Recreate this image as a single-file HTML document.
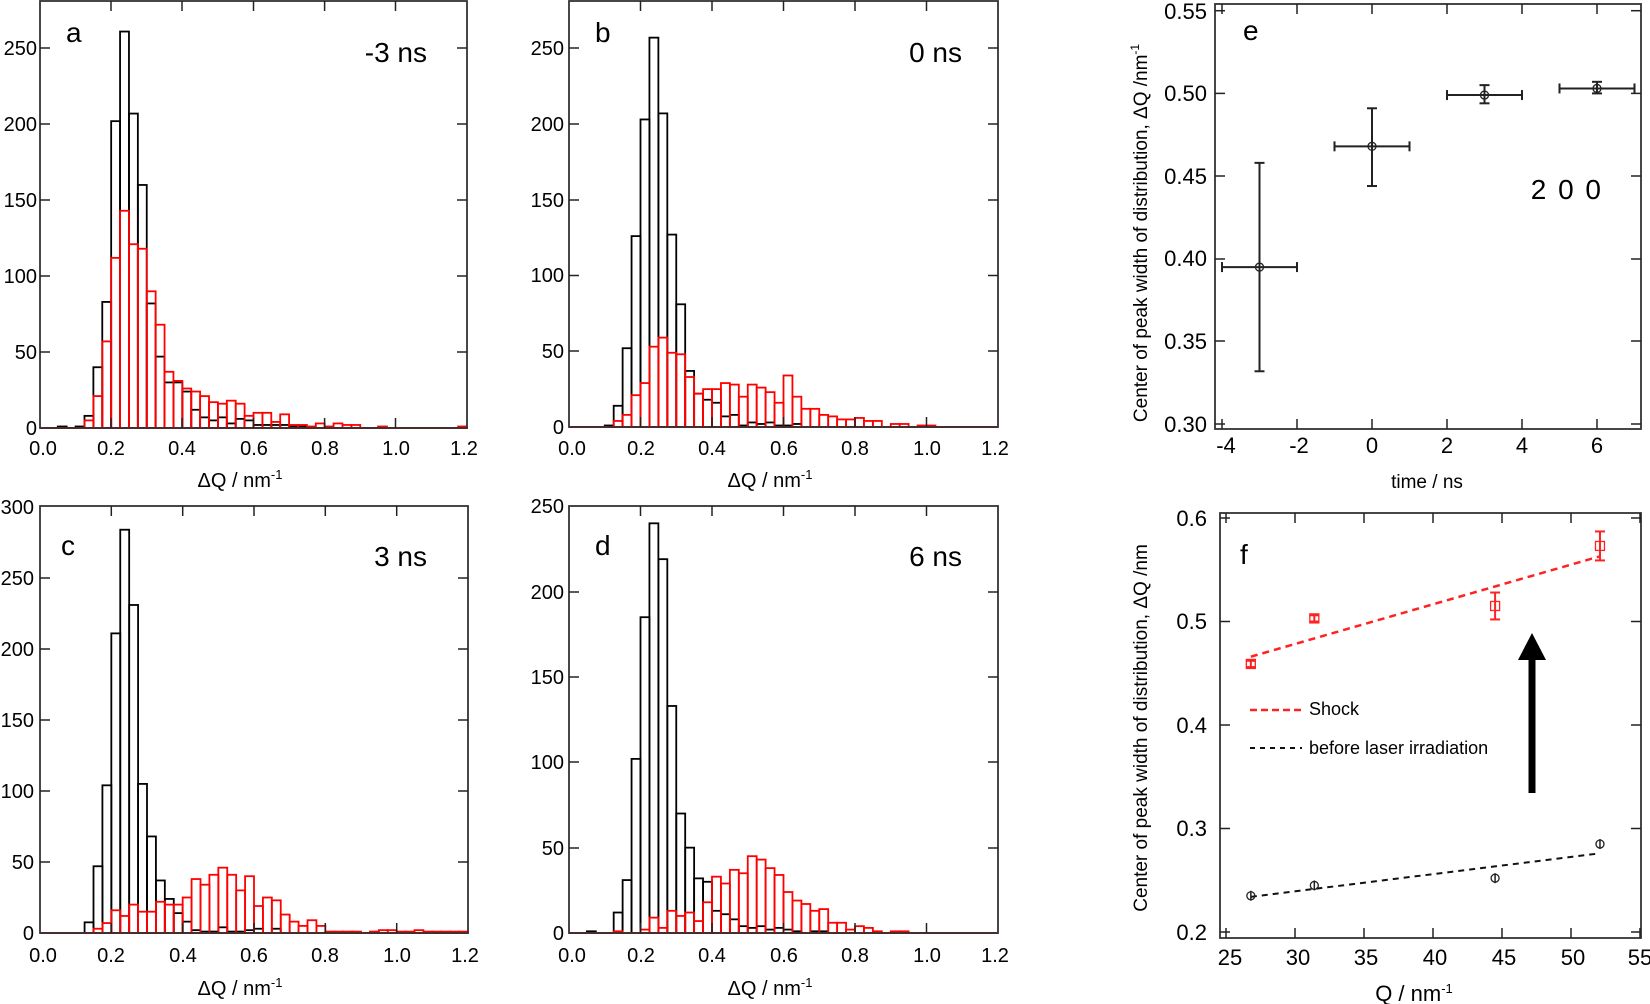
<!DOCTYPE html>
<html><head><meta charset="utf-8"><style>
html,body{margin:0;padding:0;background:#fff;}
svg{display:block;}
text{font-family:"Liberation Sans",Arial,sans-serif;fill:#000;}
.t{font-size:20px;}
.lab{font-size:20px;}
.big{font-size:28px;}
</style></head><body>
<svg id="s" xmlns="http://www.w3.org/2000/svg" width="1650" height="1004" viewBox="0 0 1650 1004">
<g id="g"></g>
<g class="t" text-anchor="end">
<text x="37" y="435">0</text><text x="37" y="359">50</text><text x="37" y="283">100</text><text x="37" y="207">150</text><text x="37" y="131">200</text><text x="37" y="55">250</text>
<text x="564" y="434">0</text><text x="564" y="358">50</text><text x="564" y="282">100</text><text x="564" y="207">150</text><text x="564" y="131">200</text><text x="564" y="55">250</text>
<text x="34" y="940">0</text><text x="34" y="869">50</text><text x="34" y="798">100</text><text x="34" y="727">150</text><text x="34" y="656">200</text><text x="34" y="585">250</text><text x="34" y="514">300</text>
<text x="564" y="940">0</text><text x="564" y="855">50</text><text x="564" y="769">100</text><text x="564" y="684">150</text><text x="564" y="599">200</text><text x="564" y="513">250</text>
</g>
<g class="t" text-anchor="middle">
<text x="43" y="455">0.0</text><text x="111" y="455">0.2</text><text x="182" y="455">0.4</text><text x="254" y="455">0.6</text><text x="325" y="455">0.8</text><text x="396" y="455">1.0</text><text x="464" y="455">1.2</text>
<text x="572" y="455">0.0</text><text x="641" y="455">0.2</text><text x="712" y="455">0.4</text><text x="784" y="455">0.6</text><text x="855" y="455">0.8</text><text x="927" y="455">1.0</text><text x="995" y="455">1.2</text>
<text x="43" y="962">0.0</text><text x="111" y="962">0.2</text><text x="183" y="962">0.4</text><text x="254" y="962">0.6</text><text x="325" y="962">0.8</text><text x="397" y="962">1.0</text><text x="465" y="962">1.2</text>
<text x="572" y="962">0.0</text><text x="641" y="962">0.2</text><text x="712" y="962">0.4</text><text x="784" y="962">0.6</text><text x="855" y="962">0.8</text><text x="927" y="962">1.0</text><text x="995" y="962">1.2</text>
</g>
<g class="lab" text-anchor="middle">
<text x="240" y="487">ΔQ / nm<tspan font-size="13" dy="-8">-1</tspan></text>
<text x="770" y="487">ΔQ / nm<tspan font-size="13" dy="-8">-1</tspan></text>
<text x="240" y="995">ΔQ / nm<tspan font-size="13" dy="-8">-1</tspan></text>
<text x="770" y="995">ΔQ / nm<tspan font-size="13" dy="-8">-1</tspan></text>
</g>
<g class="big">
<text x="66" y="42">a</text><text x="427" y="62" text-anchor="end">-3 ns</text>
<text x="595" y="42">b</text><text x="962" y="62" text-anchor="end">0 ns</text>
<text x="61" y="555">c</text><text x="427" y="566" text-anchor="end">3 ns</text>
<text x="595" y="555">d</text><text x="962" y="566" text-anchor="end">6 ns</text>
<text x="1243" y="40">e</text>
<text x="1603" y="199" text-anchor="end" letter-spacing="2">2 0 0</text>
<text x="1240" y="564">f</text>
</g>
<g class="t" text-anchor="end" style="font-size:22px">
<text x="1207" y="432">0.30</text><text x="1207" y="349">0.35</text><text x="1207" y="266">0.40</text><text x="1207" y="184">0.45</text><text x="1207" y="101">0.50</text><text x="1207" y="19">0.55</text>
<text x="1207" y="940">0.2</text><text x="1207" y="836">0.3</text><text x="1207" y="733">0.4</text><text x="1207" y="629">0.5</text><text x="1207" y="526">0.6</text>
</g>
<g class="t" text-anchor="middle" style="font-size:22px">
<text x="1226" y="453">-4</text><text x="1299" y="453">-2</text><text x="1372" y="453">0</text><text x="1447" y="453">2</text><text x="1522" y="453">4</text><text x="1597" y="453">6</text>
<text x="1230" y="965">25</text><text x="1298" y="965">30</text><text x="1366" y="965">35</text><text x="1435" y="965">40</text><text x="1504" y="965">45</text><text x="1573" y="965">50</text><text x="1640" y="965">55</text>
</g>
<g text-anchor="middle" style="font-size:19px">
<text x="1427" y="488">time / ns</text>
<text x="1414" y="1001" style="font-size:22px">Q / nm<tspan font-size="13" dy="-8">-1</tspan></text>
<text transform="translate(1147,233) rotate(-90)">Center of peak width of distribution, ΔQ /nm<tspan font-size="12" dy="-8">-1</tspan></text>
<text transform="translate(1147,728) rotate(-90)">Center of peak width of distribution, ΔQ /nm</text>
</g>
<g style="font-size:18px">
<text x="1309" y="715">Shock</text>
<text x="1309" y="754">before laser irradiation</text>
</g>
</svg>
<script>
var g=document.getElementById('g'),NS='http://www.w3.org/2000/svg';
function el(t,a){var e=document.createElementNS(NS,t);for(var k in a)e.setAttribute(k,a[k]);g.appendChild(e);return e;}
function line(x1,y1,x2,y2,c,w,d){var a={x1:x1,y1:y1,x2:x2,y2:y2,stroke:c||'#222','stroke-width':w||1.5};if(d)a['stroke-dasharray']=d;el('line',a);}
function arr(o){var r=new Array(48).fill(0);for(var k in o)r[k]=o[k];return r;}
function hist(L,R,B,ppc,c,col){var w=(R-L)/48;line(L,B,R,B,col,2);
 for(var i=0;i<48;i++){if(c[i]>0){el('rect',{x:L+i*w,y:B-c[i]*ppc,width:w,height:c[i]*ppc,fill:'none',stroke:col,'stroke-width':1.8});}}}
function frame(L,R,T,B,xt,yt){el('rect',{x:L,y:T,width:R-L,height:B-T,fill:'none',stroke:'#333','stroke-width':1.8});
 xt.forEach(function(x){line(x,B,x,B-10);line(x,T,x,T+10);});
 yt.forEach(function(y){line(L,y,L+10,y);line(R,y,R-10,y);});}
hist(40,467,428,1.519,arr({2:1,4:1,5:8,6:40,7:83,8:202,9:261,10:207,11:160,12:82,13:47,14:30,15:30,16:24,17:12,18:7,19:5,20:7,21:3,22:6,23:5,24:2,25:2,26:2,27:2,28:1,29:1}),'#000');
hist(40,467,428,1.519,arr({5:5,6:21,7:57,8:112,9:143,10:121,11:118,12:90,13:68,14:37,15:31,16:26,17:24,18:21,19:17,20:16,21:18,22:16,23:8,24:10,25:10,26:4,27:9,28:2,29:2,30:1,31:3,32:1,33:3,34:2,35:2,38:1,47:1}),'#f00');
frame(40,467,1,428,[111,182,253.5,324.6,395.5],[352,276,200,124,48]);
hist(569,998,427,1.515,arr({4:1,5:14,6:52,7:126,8:203,9:257,10:207,11:127,12:81,13:37,14:22,15:18,16:16,17:7,18:8,19:1,20:3,21:2,22:3,23:1,24:1,25:2}),'#000');
hist(569,998,427,1.515,arr({5:4,6:8,7:21,8:29,9:53,10:59,11:49,12:48,13:33,14:22,15:25,16:25,17:29,18:28,19:20,20:28,21:26,22:23,23:16,24:34,25:20,26:12,27:12,28:8,29:7,30:5,31:5,32:6,33:4,34:4,36:2,37:2,39:1,40:1}),'#f00');
frame(569,998,1,427,[640.5,712,783.5,855,926.5],[351,275.5,200,124,48]);
hist(40,468,933,1.42,arr({5:7.5,6:47,7:104,8:211,9:284,10:231,11:105,12:68,13:37,14:24,15:14,16:8,17:2,18:1,19:1,20:4,21:1,22:1,23:2,24:3,26:3}),'#000');
hist(40,468,933,1.42,arr({6:3,7:7,8:16,9:12,10:20,11:15,12:15,13:22,14:20,15:20,16:25,17:38,18:34,19:41,20:46,21:41,22:30,23:40,24:19,25:25,26:23,27:13,28:8,29:5,30:9,31:5,32:1,33:1,34:1,35:1,37:1,38:2,39:2,40:1,41:1,42:2,43:1,44:1,45:1,46:1,47:1}),'#f00');
frame(40,468,506,933,[111.3,182.7,254,325.3,396.7],[862,791,720,649,578]);
hist(569,998,933,1.707,arr({2:1,5:12,6:31,7:102,8:185,9:240,10:219,11:133,12:70,13:50,14:32,15:30,16:13,17:11,18:8,19:4,20:3,21:4,22:2,23:3,24:2,25:1,27:1,28:1}),'#000');
hist(569,998,933,1.707,arr({5:1,8:2,9:9,10:3,11:13,12:10,13:12,14:7,15:18,16:33,17:29,18:37,19:35,20:45,21:43,22:38,23:34,24:24,25:19,26:17,27:13,28:14,29:6,30:6,31:2,32:4,33:3,34:1,36:1,37:1}),'#f00');
frame(569,998,506,933,[640.5,712,783.5,855,926.5],[848,762,677,592]);
frame(1215,1641,4,429,[1222,1297,1372,1447,1522,1597],[10.7,93.4,176,259,341,424]);
function EX(t){return 1222+(t+4)*37.5;} function EY(v){return 10.7+(0.55-v)*1654;}
[[-3,0.395,1,0.332,0.458],[0,0.468,1,0.444,0.491],[3,0.499,1,0.494,0.505],[6,0.503,1,0.500,0.507]].forEach(function(p){
 var x=EX(p[0]),y=EY(p[1]),x1=EX(p[0]-p[2]),x2=EX(p[0]+p[2]),y1=EY(p[3]),y2=EY(p[4]);
 line(x1,y,x2,y,'#222',2);line(x1,y-5,x1,y+5,'#222',2);line(x2,y-5,x2,y+5,'#222',2);
 line(x,y1,x,y2,'#222',2);line(x-5,y1,x+5,y1,'#222',2);line(x-5,y2,x+5,y2,'#222',2);
 el('circle',{cx:x,cy:y,r:4,fill:'none',stroke:'#222','stroke-width':1.3});});
frame(1220,1641,513,938,[1226,1295,1364,1433,1502,1571,1640],[518,621.5,725,828.5,932]);
function FX(q){return 1226+(q-25)*13.8;} function FY(v){return 518+(0.6-v)*1035;}
line(FX(26.8),FY(0.466),FX(52.1),FY(0.563),'#f22',2.5,'7,5');
line(FX(26.8),FY(0.234),FX(52.1),FY(0.276),'#111',2,'6,5');
[[26.8,0.459,0.003],[31.4,0.503,0.003],[44.5,0.515,0.013],[52.1,0.573,0.014]].forEach(function(p){
 var x=FX(p[0]),y=FY(p[1]),y1=FY(p[1]-p[2]),y2=FY(p[1]+p[2]);
 line(x,y1,x,y2,'#f22',2);line(x-5,y1,x+5,y1,'#f22',2);line(x-5,y2,x+5,y2,'#f22',2);
 el('rect',{x:x-4.5,y:y-4.5,width:9,height:9,fill:'none',stroke:'#f22','stroke-width':1.3});});
[[26.8,0.235],[31.4,0.245],[44.5,0.252],[52.1,0.285]].forEach(function(p){
 var x=FX(p[0]),y=FY(p[1]);line(x,y-5,x,y+5,'#222',1.5);
 el('circle',{cx:x,cy:y,r:4,fill:'none',stroke:'#222','stroke-width':1.3});});
line(1250,710,1302,710,'#f22',2.5,'7,4');
line(1250,748,1302,748,'#111',2,'5,5');
el('rect',{x:1528.5,y:655,width:7,height:138,fill:'#000'});
el('polygon',{points:'1532,633 1518,660 1546,660',fill:'#000'});
</script>
</body></html>
